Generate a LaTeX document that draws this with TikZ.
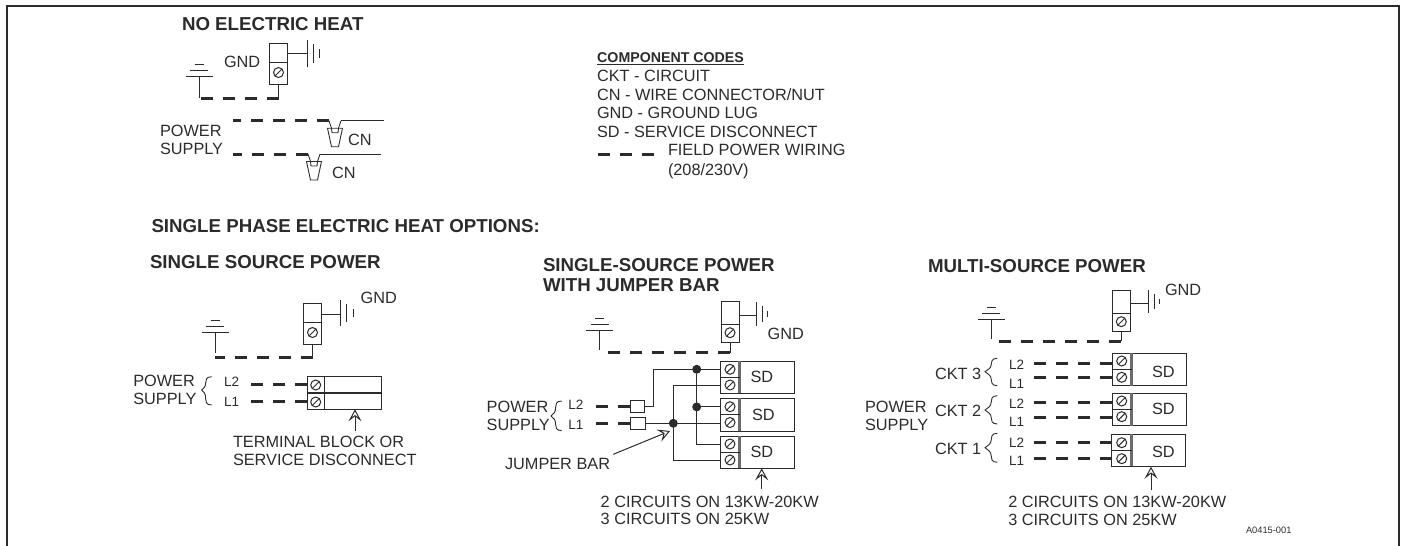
\documentclass[tikz,border=0pt]{standalone}
\usepackage{fontspec}
\setmainfont{Liberation Sans}
\usetikzlibrary{arrows.meta,fit}
\definecolor{ink}{HTML}{2B2B2B}
\tikzset{
  x=1pt,y=-1pt,
  wire/.style={draw=ink,line width=1pt},
  fieldwire/.style={draw=ink,line width=3pt,dash pattern=on 12pt off 10pt},
  txt/.style={anchor=west,inner sep=0pt,outer sep=0pt,text=ink,font=\fontsize{16.3}{17.7}\selectfont,align=left,text height=11.7pt,text depth=0pt},
  small/.style={txt,font=\fontsize{13.5}{15}\selectfont,text height=9.7pt},
  multi/.style={anchor=north west,inner sep=0pt,outer sep=0pt,text=ink,font=\fontsize{16.3}{17.7}\selectfont,align=left},
  head/.style={anchor=north west,inner sep=0pt,outer sep=0pt,text=ink,font=\fontsize{18.7}{20.5}\selectfont\bfseries,align=left},
  block/.style={draw=ink,line width=1pt,inner sep=0pt,outer sep=0pt,fill=white},
  screw/.style={circle,draw=ink,line width=1pt,minimum size=10pt,inner sep=0pt,outer sep=0pt,path picture={\draw[ink,line width=1pt] (path picture bounding box.south west)--(path picture bounding box.north east);}},
  dot/.style={circle,fill=ink,minimum size=9pt,inner sep=0pt,outer sep=0pt},
  pointer/.style={draw=ink,line width=1pt,-{Stealth[open,length=12pt,width=13pt,inset=5pt]}},
  bar/.style={draw=ink!70,line width=2.4pt},
}
\newcommand{\bx}[5]{\path (#2,#3) coordinate (#1a) (#4,#5) coordinate (#1b); \node[block,fit=(#1a)(#1b)] (#1) {};}
\newcommand{\rack}[7]{%
  \draw[wire] (#2,#3)--(#2,#4);
  \draw[wire] (#5,#3+4)--(#5,#4-4);
  \draw[wire] (#6,#3+9)--(#6,#4-9);
  \coordinate (#1) at (#2,#7);}
\newcommand{\earth}[3]{%
  \draw[wire] (#2-13.5,#3)--(#2+13.5,#3);
  \draw[wire] (#2-9,#3-5.5)--(#2+9,#3-5.5);
  \draw[wire] (#2-4.5,#3-12)--(#2+4.5,#3-12);
  \coordinate (#1) at (#2,#3);}
\newcommand{\crly}[5]{\draw[wire,line width=.9pt] (#2,#3) .. controls (#2-6,#3) and (#2-6,#3+4) .. (#2-6,#3+6) .. controls (#2-6,#4-3) and (#1+2,#4-2) .. (#1,#4) .. controls (#1+2,#4+2) and (#2-6,#4+3) .. (#2-6,#5-6) .. controls (#2-6,#5-4) and (#2-6,#5) .. (#2,#5);}
\newcommand{\cnut}[3]{%
  \draw[wire,line width=.9pt] (#2-6,#3) -- (#2-3.5,#3+7.5) -- (#2-3,#3+12) -- (#2+3,#3+12) -- (#2+3.5,#3+7.5) -- (#2+6,#3);
  \draw[wire,line width=.9pt] (#2-7.5,#3+7.5) -- (#2+7.5,#3+7.5) -- (#2+3.5,#3+26) -- (#2-3.5,#3+26) -- cycle;
  \coordinate (#1l) at (#2-6,#3); \coordinate (#1r) at (#2+6,#3);}
\begin{document}
\begin{tikzpicture}
\useasboundingbox (0,0) rectangle (1403,546);
\draw[draw=ink,line width=2pt] (7,546)--(7,5.5)--(1398.5,5.5)--(1398.5,546);
%
% ---------- NO ELECTRIC HEAT
\node[head] (t1) at (182,17.6) {NO ELECTRIC HEAT};
\node[txt] (g1) at (224,62) {GND};
\bx{lugA}{269.3}{43}{287.7}{84}
\draw[wire] (lugA.west |- 0,62.3)--(lugA.east |- 0,62.3);
\node[screw] (sA) at (278.5,72.5) {};
\rack{rA}{307}{40}{66.7}{313}{319}{53.3}
\draw[wire] (lugA.east |- rA)--(rA);
\earth{eA}{199}{76}
\coordinate (jA) at (199,98);
\coordinate (kA) at (278.5,98);
\draw[wire] (eA)--(jA);
\draw[wire] (lugA.south -| kA)--(kA);
\draw[fieldwire] (kA)--(201,98);
\node[multi] (p1) at (160,125.5) {POWER\\SUPPLY};
\cnut{cA}{335}{120.7}
\cnut{cB}{314}{154}
\coordinate (dA) at (233,120.7);
\coordinate (dB) at (233,154);
\coordinate (eeA) at (384,120.7);
\coordinate (eeB) at (381,154);
\draw[fieldwire] (cAl)--(dA);
\draw[fieldwire] (cBl)--(dB);
\draw[wire] (cAr)--(eeA);
\draw[wire] (cBr)--(eeB);
\node[txt] (cn1) at (348,140) {CN};
\node[txt] (cn2) at (332,173) {CN};
%
% ---------- LEGEND
\node[anchor=west,inner sep=0pt,text=ink,font=\fontsize{14.2}{15}\selectfont\bfseries] (lg0) at (597,59) {\underline{COMPONENT CODES}};
\node[multi,font=\fontsize{16.3}{18.5}\selectfont] (lg1) at (597,70.2) {CKT - CIRCUIT\\CN - WIRE CONNECTOR/NUT\\GND - GROUND LUG\\SD - SERVICE DISCONNECT};
\node[multi,font=\fontsize{16.3}{19.5}\selectfont] (lg2) at (668,144.2) {FIELD POWER WIRING\\(208/230V)};
\coordinate (lgd) at (598,154);
\draw[fieldwire] (lgd)--(655,154);
%
\node[head] (t2) at (151.5,219) {SINGLE PHASE ELECTRIC HEAT OPTIONS:};
%
% ---------- SINGLE SOURCE POWER
\node[head] (t3) at (150,255.3) {SINGLE SOURCE POWER};
\node[txt] (g2) at (360.7,298) {GND};
\bx{lugB}{303.3}{303.3}{321.7}{344}
\draw[wire] (lugB.west |- 0,322.3)--(lugB.east |- 0,322.3);
\node[screw] (sB) at (312.5,332.5) {};
\rack{rB}{340.7}{300}{326}{346.7}{353}{314}
\draw[wire] (lugB.east |- rB)--(rB);
\earth{eB}{215}{332.3}
\coordinate (jB) at (215,353);
\coordinate (kB) at (312.5,357.3);
\draw[wire] (eB)--(jB);
\draw[wire] (lugB.south -| kB)--(kB);
\draw[fieldwire] (kB)--(215,357.3);
\bx{tb2}{307.3}{376.7}{381}{392.7}
\bx{tb1}{307.3}{393.7}{381}{409.3}
\draw[wire] (324,376.7)--(324,409.3);
\node[screw] (s2) at (315.7,385) {};
\node[screw] (s1) at (315.7,402) {};
\coordinate (f2) at (249.3,384.5);
\coordinate (f1) at (249.3,401);
\draw[fieldwire] (tb2.west |- f2)--(f2);
\draw[fieldwire] (tb1.west |- f1)--(f1);
\node[small] (l2) at (224,381.7) {L2};
\node[small] (l1) at (224,402) {L1};
\crly{201.7}{211.7}{376.7}{390}{405}
\node[multi] (p2) at (133.3,375) {POWER\\SUPPLY};
\coordinate (aB) at (355,431);
\draw[pointer] (aB)--(tb1.south -| aB);
\node[multi] (tbt) at (233,436.5) {TERMINAL BLOCK OR\\SERVICE DISCONNECT};
%
% ---------- WITH JUMPER BAR
\node[head] (t4) at (543,258.3) {SINGLE-SOURCE POWER\\WITH JUMPER BAR};
\node[txt] (g3) at (767.7,333.3) {GND};
\bx{lugC}{721}{301.7}{739.3}{342.3}
\draw[wire] (lugC.west |- 0,324.3)--(lugC.east |- 0,324.3);
\node[screw] (sC) at (730,332.7) {};
\rack{rC}{756.7}{301.7}{326}{762.7}{767.5}{315}
\draw[wire] (lugC.east |- rC)--(rC);
\earth{eC}{599.7}{330}
\coordinate (jC) at (599.7,350);
\coordinate (kC) at (730,352.7);
\draw[wire] (eC)--(jC);
\draw[wire] (lugC.south -| kC)--(kC);
\draw[fieldwire] (kC)--(604,352.7);
\bx{sd3}{720.7}{361}{794.3}{393.3}
\bx{sd2}{720.7}{398.3}{794.3}{431}
\bx{sd1}{720.7}{436}{794}{468.3}
\foreach \y in {361,398.3,436}{
  \draw[bar] (739.5,\y)--(739.5,\y+32.4);
  \draw[wire] (720.7,\y+16.2)--(739.5,\y+16.2);
}
\node[screw] (a3t) at (730,369.3) {};
\node[screw] (a3b) at (730,385) {};
\node[screw] (a2t) at (730,406.7) {};
\node[screw] (a2b) at (730,422.5) {};
\node[screw] (a1t) at (730,444) {};
\node[screw] (a1b) at (730,460) {};
\node[txt] (sdt3) at (750.5,376.7) {SD};
\node[txt] (sdt2) at (752,414.3) {SD};
\node[txt] (sdt1) at (750.5,451.3) {SD};
\bx{bxL2}{630}{400}{644.3}{412.7}
\bx{bxL1}{630}{417.3}{645}{429.3}
\node[dot] (d1) at (696.7,369.3) {};
\node[dot] (d2) at (696.7,406.9) {};
\node[dot] (d3) at (673.3,423.3) {};
\coordinate (cL2) at (653.3,406.5);
\draw[wire] (bxL2.east |- cL2)--(cL2)--(cL2 |- d1)--(sd3.west |- d1);
\draw[wire] (d1)--(696.7,444)--(sd1.west |- 0,444);
\draw[wire] (d2)--(sd2.west |- d2);
\draw[wire] (bxL1.east |- d3)--(sd2.west |- d3);
\draw[wire] (d3 |- 0,385)--(sd3.west |- 0,385);
\draw[wire] (d3 |- 0,385)--(d3 |- 0,460)--(sd1.west |- 0,460);
\coordinate (f4) at (594,406.5);
\coordinate (f3) at (594,423.3);
\draw[fieldwire] (bxL2.west |- f4)--(f4);
\draw[fieldwire] (bxL1.west |- f3)--(f3);
\node[small] (l4) at (568.3,405) {L2};
\node[small] (l3) at (568.3,424.3) {L1};
\crly{551}{561.7}{401}{416}{430.7}
\node[multi] (p3) at (486.7,401.5) {POWER\\SUPPLY};
\node[txt] (jb) at (505,463.3) {JUMPER BAR};
\coordinate (jbs) at (613.3,454.3);
\coordinate (jbe) at (670,431);
\draw[pointer] (jbs)--(jbe);
\coordinate (aC) at (761.7,489);
\draw[pointer] (aC)--(sd1.south -| aC);
\node[multi] (c3t) at (600.7,495.8) {2 CIRCUITS ON 13KW-20KW\\3 CIRCUITS ON 25KW};
%
% ---------- MULTI-SOURCE POWER
\node[head] (t5) at (928,259.3) {MULTI-SOURCE POWER};
\node[txt] (g4) at (1165,289.3) {GND};
\bx{lugD}{1112.3}{290}{1130.7}{331}
\draw[wire] (lugD.west |- 0,313.3)--(lugD.east |- 0,313.3);
\node[screw] (sD) at (1121.3,321.7) {};
\rack{rD}{1148.3}{290}{313}{1154}{1159}{303.3}
\draw[wire] (lugD.east |- rD)--(rD);
\earth{eD}{991.3}{319}
\coordinate (jD) at (991.3,339);
\coordinate (kD) at (1121.3,341.3);
\draw[wire] (eD)--(jD);
\draw[wire] (lugD.south -| kD)--(kD);
\draw[fieldwire] (kD)--(996.7,341.3);
\bx{md3}{1112.3}{353.3}{1186}{385.7}
\bx{md2}{1112.3}{393.3}{1186}{425.7}
\bx{md1}{1111.7}{434}{1185.7}{466.7}
\foreach \y in {353.3,393.3,434}{
  \draw[bar] (1131.5,\y)--(1131.5,\y+32.4);
  \draw[wire] (1112.3,\y+16.2)--(1131.5,\y+16.2);
}
\node[screw] (b3t) at (1121.7,361) {};
\node[screw] (b3b) at (1121.7,377.3) {};
\node[screw] (b2t) at (1121.7,401) {};
\node[screw] (b2b) at (1121.7,416.7) {};
\node[screw] (b1t) at (1121.7,442.7) {};
\node[screw] (b1b) at (1121.7,458.7) {};
\foreach \n/\y in {m1/363,m2/377,m3/402,m4/417,m5/442.7,m6/458.7}{
  \coordinate (\n) at (1031.7,\y);
  \draw[fieldwire] (1112,\y)--(\n);
}
\foreach \n/\y/\s in {q1/365/L2,q2/383.3/L1,q3/404/L2,q4/421.7/L1,q5/442.3/L2,q6/461/L1}{
  \node[small] (\n) at (1009,\y) {\s};
}
\crly{985}{997.3}{358.3}{371.7}{385.7}
\crly{985}{997.3}{395.7}{410}{424}
\crly{985}{997.3}{433.3}{447.7}{462.3}
\node[txt] (k3) at (935,373.3) {CKT 3};
\node[txt] (k2) at (935,410.7) {CKT 2};
\node[txt] (k1) at (935,448.3) {CKT 1};
\node[multi] (p4) at (865,401.5) {POWER\\SUPPLY};
\node[txt] (msd3) at (1152,371.7) {SD};
\node[txt] (msd2) at (1152,408.3) {SD};
\node[txt] (msd1) at (1152,451.7) {SD};
\coordinate (aD) at (1151,490);
\draw[pointer] (aD)--(md1.south -| aD);
\node[multi] (c4t) at (1008.3,496.5) {2 CIRCUITS ON 13KW-20KW\\3 CIRCUITS ON 25KW};
\node[txt,font=\fontsize{9.3}{10}\selectfont,text height=6.7pt] (ref) at (1246,530) {A0415-001};
\end{tikzpicture}
\end{document}
